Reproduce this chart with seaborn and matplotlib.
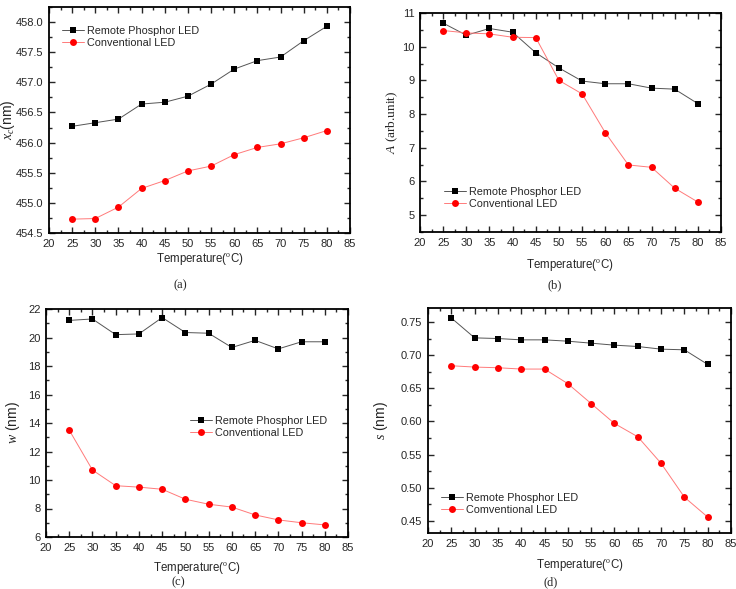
import numpy as np
import pandas as pd
import matplotlib
matplotlib.use("Agg")
import matplotlib.pyplot as plt
from matplotlib.ticker import MultipleLocator, AutoMinorLocator, FormatStrFormatter
import seaborn as sns

# temperatures (°C)
temperature = [25, 30, 35, 40, 45, 50, 55, 60, 65, 70, 75, 80]

# (a) peak position x_c (nm)
xc_remote = [456.27, 456.33, 456.39, 456.64, 456.67, 456.77, 456.97, 457.22, 457.36, 457.42, 457.69, 457.93]
xc_conv = [454.73, 454.74, 454.93, 455.24, 455.37, 455.53, 455.61, 455.80, 455.92, 455.98, 456.08, 456.20]

# (b) amplitude A (arb. unit)
a_remote = [10.70, 10.34, 10.54, 10.43, 9.82, 9.37, 8.98, 8.90, 8.90, 8.77, 8.74, 8.31]
a_conv = [10.48, 10.41, 10.38, 10.28, 10.27, 9.00, 8.60, 7.45, 6.49, 6.42, 5.80, 5.39]

# (c) width w (nm)
w_remote = [21.2, 21.3, 20.2, 20.25, 21.4, 20.35, 20.3, 19.3, 19.8, 19.2, 19.7, 19.7]
w_conv = [13.5, 10.7, 9.6, 9.5, 9.35, 8.65, 8.3, 8.1, 7.55, 7.2, 7.0, 6.85]

# (d) s (nm)
s_remote = [0.756, 0.726, 0.725, 0.723, 0.723, 0.721, 0.718, 0.715, 0.713, 0.709, 0.708, 0.686]
s_conv = [0.684, 0.682, 0.681, 0.679, 0.679, 0.657, 0.627, 0.597, 0.577, 0.537, 0.486, 0.456]

captions = ['(a)', '(b)', '(c)', '(d)']

sns.set_style("ticks")
plt.rcParams['font.family'] = ['Liberation Sans', 'DejaVu Sans']
plt.rcParams['mathtext.fontset'] = 'custom'
plt.rcParams['mathtext.rm'] = 'Liberation Serif'
plt.rcParams['mathtext.it'] = 'Liberation Serif:italic'

W, H = 736, 589
fig = plt.figure(figsize=(W / 100, H / 100), dpi=100)

# pixel boxes (left, right, top, bottom) of each panel, and label / caption spots
panels = [
    dict(px=(49, 350, 7, 233), remote=xc_remote, conv=xc_conv, ylim=(454.5, 458.25),
         ymaj=0.5, fmt='%.1f', conv_label='Conventional LED',
         ylabel=r'$x_c$(nm)', ysize=10, yfam='Liberation Sans', ylab_x=8,
         xlab=(200, 259), leg=(62, 26), cap=(180, 285)),
    dict(px=(420, 721, 13, 232), remote=a_remote, conv=a_conv, ylim=(4.5, 11),
         ymaj=1, fmt='%d', conv_label='Conventional LED',
         ylabel=r'$A$ (arb.unit)', ysize=9.5, yfam='Liberation Serif', ylab_x=392,
         xlab=(570, 265), leg=(444, 187), cap=(555, 285)),
    dict(px=(46, 348, 309, 537), remote=w_remote, conv=w_conv, ylim=(6, 22),
         ymaj=2, fmt='%d', conv_label='Conventional LED',
         ylabel=r'$w$ (nm)', ysize=10, yfam='Liberation Sans', ylab_x=13,
         xlab=(197, 568), leg=(190, 416), cap=(178, 582)),
    dict(px=(428, 731, 308, 533), remote=s_remote, conv=s_conv, ylim=(0.432, 0.771),
         ymaj=0.05, fmt='%.2f', conv_label='Comventional LED',
         ylabel=r'$s$ (nm)', ysize=10, yfam='Liberation Sans', ylab_x=381,
         xlab=(580, 565), leg=(441, 493), cap=(551, 582)),
]

for p, cap_txt in zip(panels, captions):
    l, r, t, b = p['px']
    ax = fig.add_axes([l / W, 1 - b / H, (r - l) / W, (b - t) / H])
    df = pd.DataFrame({'T': temperature, 'remote': p['remote'], 'conv': p['conv']})
    sns.lineplot(data=df, x='T', y='remote', ax=ax, color='#555555', lw=0.7,
                 marker='s', markersize=4.5, markerfacecolor='black',
                 markeredgecolor='black', markeredgewidth=0, label='Remote Phosphor LED')
    sns.lineplot(data=df, x='T', y='conv', ax=ax, color='#ff7a7a', lw=0.7,
                 marker='o', markersize=5, markerfacecolor='#ff0000',
                 markeredgecolor='#ff0000', markeredgewidth=0, label=p['conv_label'])
    ax.set_xlim(20, 85)
    ax.set_ylim(*p['ylim'])
    ax.xaxis.set_major_locator(MultipleLocator(5))
    ax.xaxis.set_minor_locator(AutoMinorLocator(2))
    ax.yaxis.set_major_locator(MultipleLocator(p['ymaj']))
    ax.yaxis.set_minor_locator(AutoMinorLocator(2))
    ax.yaxis.set_major_formatter(FormatStrFormatter(p['fmt']))
    ax.tick_params(which='both', direction='in', top=True, right=True, labelsize=8, width=1)
    ax.tick_params(which='major', length=4, pad=4)
    ax.tick_params(which='minor', length=2)
    for sp in ax.spines.values():
        sp.set_linewidth(1.3)
        sp.set_color('black')

    # axis labels placed at the reference spots
    ax.set_xlabel('Temperature($^{\\rm o}$C)', fontsize=8.3, va='center')
    ax.xaxis.set_label_coords((p['xlab'][0] - l) / (r - l), -(p['xlab'][1] - b) / (b - t))
    ax.set_ylabel(p['ylabel'], fontsize=p['ysize'], family=p['yfam'], va='center')
    ax.yaxis.set_label_coords(-(l - p['ylab_x']) / (r - l), 0.5)

    lx, ly = p['leg']
    ax.legend(frameon=False, fontsize=7.8, handlelength=2.0, handletextpad=0.35,
              borderaxespad=0, borderpad=0, labelspacing=0.15, loc='upper left',
              bbox_to_anchor=((lx - l) / (r - l), 1 - (ly - t) / (b - t)))

    fig.text(p['cap'][0] / W, 1 - p['cap'][1] / H, cap_txt,
             ha='center', va='center', fontsize=9, family='Liberation Serif')

fig.savefig('out.png', dpi=100)
